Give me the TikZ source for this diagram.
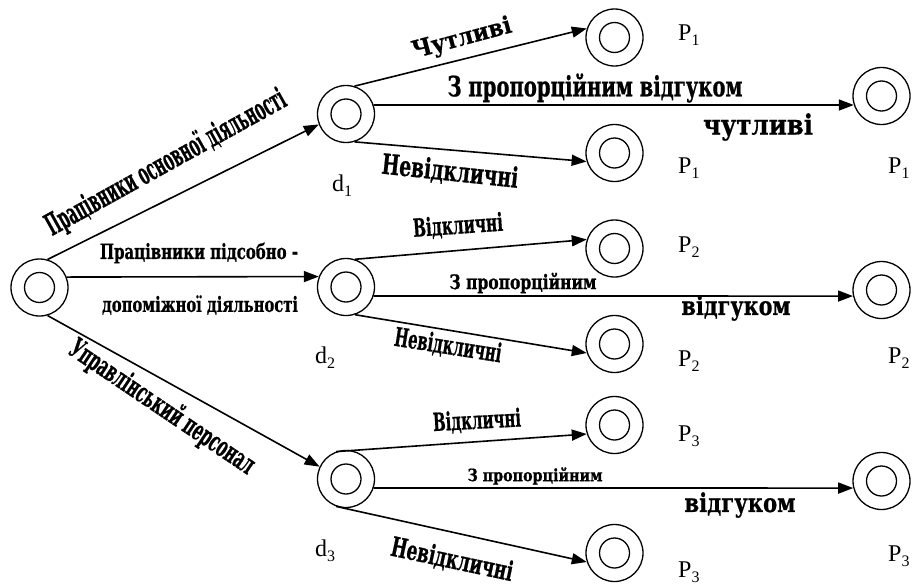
\documentclass[tikz,border=0pt]{standalone}
\usepackage{fontspec}
\setmainfont{Liberation Serif}
\newfontfamily\condf[FakeBold=0.8]{DejaVu Serif Condensed Bold}
\newfontfamily\widef[FakeBold=0.7]{DejaVu Serif Bold}
\usetikzlibrary{arrows.meta}
\newcommand\fitw[3]{\resizebox{#1}{\height}{\fontsize{#2}{#2}\selectfont\condf #3}}
\newcommand\fitwide[3]{\resizebox{#1}{\height}{\fontsize{#2}{#2}\selectfont\widef #3}}
\newcommand\sbs[1]{\raisebox{-5pt}{\fontsize{16}{16}\selectfont #1}}
\begin{document}
\begin{tikzpicture}[x=1pt,y=-1pt,
  state/.style={circle,draw,line width=1.3pt,minimum size=57pt,inner sep=0pt,
    path picture={\draw[line width=1.3pt] (path picture bounding box.center) circle (15pt);}},
  arr/.style={line width=1.6pt,-{Triangle[length=15pt,width=11pt]}},
  lbl/.style={inner sep=0pt,font=\fontsize{24}{24}\selectfont},
  txt/.style={inner sep=0pt}]
\useasboundingbox (0,0) rectangle (912,586);
% nodes
\node[state] (root) at (39.5,287.5) {};
\node[state] (d1) at (346,114) {};
\node[state] (d2) at (346,287) {};
\node[state] (d3) at (346,479) {};
\node[state] (a1) at (614.5,37.5) {};
\node[state] (b1) at (614.5,153) {};
\node[state] (c1) at (881.5,96) {};
\node[state] (a2) at (614.5,248.5) {};
\node[state] (b2) at (614.5,344) {};
\node[state] (c2) at (881.5,290) {};
\node[state] (a3) at (614.5,425) {};
\node[state] (b3) at (614.5,553) {};
\node[state] (c3) at (881.5,481) {};
% connectors
\draw[arr] (root.74) -- (d1.201.6);
\draw[arr] (root.21.2) -- (d2.159.5);
\draw[arr] (root.-74) -- (d3.155);
\draw[arr] (d1.73) -- (a1.162);
\draw[arr] (d1.18.4) -- (c1.198.4);
\draw[arr] (d1.-73) -- (b1.197);
\draw[arr] (d2.72) -- (a2.162.7);
\draw[arr] (d2.-18.4) -- (c2.192.2);
\draw[arr] (d2.-72) -- (b2.198.4);
\draw[arr] (d3.110) -- (a3.198);
\draw[arr] (d3.-18.4) -- (c3.194.2);
\draw[arr] (d3.-110) -- (b3.198);
% edge texts
\node[txt,rotate=29] (t1) at (166,163) {\fitw{270pt}{30}{Працівники основної діяльності}};
\node[txt] (t2) at (199,253) {\fitw{198pt}{21}{Працівники підсобно -}};
\node[txt] (t3) at (200,305) {\fitw{196pt}{21}{допоміжної діяльності}};
\node[txt,rotate=-34] (t4) at (162,407) {\fitw{218pt}{28}{Управлінський персонал}};
\node[txt,rotate=15] (t5) at (462,39) {\fitwide{102pt}{24}{Чутливі}};
\node[txt] (t6) at (595,88) {\fitw{295pt}{28}{З пропорційним відгуком}};
\node[txt] (t7) at (758,127) {\fitwide{110pt}{28}{чутливі}};
\node[txt,rotate=-6] (t8) at (450,172) {\fitw{137pt}{28}{Невідкличні}};
\node[txt,rotate=4] (t9) at (458,226) {\fitw{90pt}{25}{Відкличні}};
\node[txt] (t10) at (523,283) {\fitw{147pt}{20}{З пропорційним}};
\node[txt] (t11) at (736,308) {\fitwide{109pt}{26}{відгуком}};
\node[txt,rotate=-9] (t12) at (448,346) {\fitw{108pt}{26}{Невідкличні}};
\node[txt,rotate=3] (t13) at (477,421) {\fitw{88pt}{25}{Відкличні}};
\node[txt] (t14) at (535,476) {\fitw{135pt}{17}{З пропорційним}};
\node[txt] (t15) at (740,505) {\fitwide{111pt}{26}{відгуком}};
\node[txt,rotate=-12] (t16) at (452,560) {\fitw{124pt}{27}{Невідкличні}};
% state labels
\node[lbl,anchor=west] (pa1) at (678,35) {P\sbs{1}};
\node[lbl,anchor=west] (pb1) at (678,168) {P\sbs{1}};
\node[lbl,anchor=west] (pc1) at (888,168) {P\sbs{1}};
\node[lbl,anchor=west] (pa2) at (678,247) {P\sbs{2}};
\node[lbl,anchor=west] (pb2) at (678,361) {P\sbs{2}};
\node[lbl,anchor=west] (pc2) at (888,358) {P\sbs{2}};
\node[lbl,anchor=west] (pa3) at (678,436) {P\sbs{3}};
\node[lbl,anchor=west] (pb3) at (678,572) {P\sbs{3}};
\node[lbl,anchor=west] (pc3) at (888,556) {P\sbs{3}};
\node[lbl] (ld1) at (342,186) {d\sbs{1}};
\node[lbl] (ld2) at (325,358) {d\sbs{2}};
\node[lbl] (ld3) at (325,551) {d\sbs{3}};
\end{tikzpicture}
\end{document}
